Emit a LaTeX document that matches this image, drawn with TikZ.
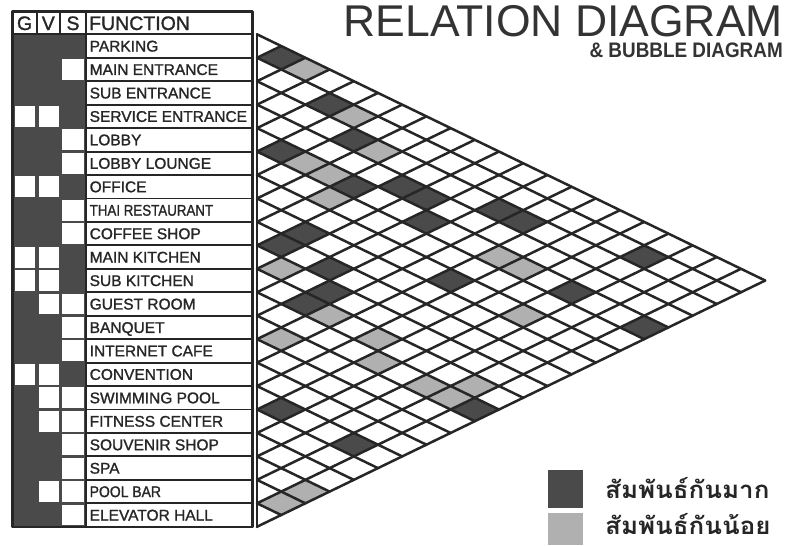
\documentclass[tikz,border=0pt]{standalone}
\usepackage{fontspec}
\setmainfont{Liberation Sans}
\newfontfamily\semib[FakeBold=1.3]{Liberation Sans}
\newfontfamily\thaifont[Script=Thai]{Loma}
\definecolor{cdark}{HTML}{4A4A4A}
\definecolor{clight}{HTML}{B0B0B0}
\definecolor{gline}{HTML}{262626}
\def\gxo{257}
\def\gyt{34.3}
\def\grh{23.45}
\def\gha{24.2}
\newcommand\relcell[3]{%
  \fill[#1] ({\gxo+(#3-#2)*\gha-\gha},{\gyt+(#2+#3-1)*\grh/2}) -- ++(\gha,-\grh/2) -- ++(\gha,\grh/2) -- ++(-\gha,\grh/2) -- cycle;}
\tikzset{
  gridline/.style={draw=gline, line width=2.5pt, line cap=round},
  tline/.style={draw=black!85, line width=1.9pt},
  fname/.style={anchor=base west, inner sep=0pt, font=\semib\fontsize{15.5}{16}\selectfont, text=black!85},
  hname/.style={anchor=base, inner sep=0pt, font=\semib\fontsize{19.5}{20}\selectfont, text=black!85},
  legtext/.style={anchor=base west, inner sep=0pt, font=\thaifont\bfseries\fontsize{24}{25}\selectfont, text=black!85},
}
\begin{document}
\begin{tikzpicture}[x=1pt,y=-1pt,line join=round]
\useasboundingbox (0,0) rectangle (787,546);
\fill[white] (0,0) rectangle (787,546);

% ---------- relation cells ----------
\foreach \i/\j in {1/2,2/5,3/7,5/6,5/9,4/10,4/11,5/12,8/10,9/10,9/12,10/13,11/13,7/15,3/13,3/14,5/18,2/18,5/21,16/17,16/20,12/21}
  {\relcell{cdark}{\i}{\j}}
\foreach \i/\j in {1/3,2/6,3/8,5/7,5/8,6/9,10/11,11/14,13/14,11/16,12/17,12/19,12/20,11/20,19/21,20/21,5/15,5/16,7/18}
  {\relcell{clight}{\i}{\j}}

% ---------- grid ----------
\foreach \k in {0,...,21} {
  \draw[gridline] (\gxo,{\gyt+\k*\grh}) -- ++({(21-\k)*\gha},{(21-\k)*\grh/2});
  \draw[gridline] (\gxo,{\gyt+\k*\grh}) -- ++({\k*\gha},{-\k*\grh/2});
}
\draw[gridline] (\gxo,\gyt) -- (\gxo,{\gyt+21*\grh});

% ---------- table ----------
\fill[cdark] (12.5,\gyt) rectangle (86,{\gyt+21*\grh});
\foreach \k/\g/\v/\s in {1/1/1/1,2/1/1/0,3/1/1/1,4/0/0/1,5/1/1/0,6/1/1/0,7/0/0/1,8/1/1/0,9/1/1/0,10/0/0/1,11/0/0/1,12/1/0/0,13/1/1/0,14/1/1/0,15/0/0/1,16/1/0/0,17/1/0/0,18/1/1/0,19/1/1/0,20/1/0/0,21/1/1/0} {
  \ifnum\g=0 \fill[white] (15,{\gyt+(\k-1)*\grh+1.3}) rectangle (35,{\gyt+\k*\grh-1.3}); \fi
  \ifnum\v=0 \fill[white] (39,{\gyt+(\k-1)*\grh+1.3}) rectangle (58.5,{\gyt+\k*\grh-1.3}); \fi
  \ifnum\s=0 \fill[white] (62,{\gyt+(\k-1)*\grh+1.3}) rectangle (84,{\gyt+\k*\grh-1.3}); \fi
}
\foreach \k in {1,...,20} \draw[tline] (86,{\gyt+\k*\grh}) -- (252.5,{\gyt+\k*\grh});
\draw[tline] (12.5,\gyt) -- (252.5,\gyt);
\draw[tline] (36.7,11.5) -- (36.7,\gyt);
\draw[tline] (60,11.5) -- (60,\gyt);
\draw[tline] (86,11.5) -- (86,{\gyt+21*\grh});
\draw[black!85, line width=2.4pt] (12.5,11.5) rectangle (252.5,{\gyt+21*\grh});

\node[hname] (hg) at (24.6,30) {G};
\node[hname] (hv) at (48.3,30) {V};
\node[hname] (hs) at (73,30) {S};
\node[hname, anchor=base west] (hf) at (89,30) {FUNCTION};

\foreach \k/\name in {1/PARKING,2/MAIN ENTRANCE,3/SUB ENTRANCE,4/SERVICE ENTRANCE,5/LOBBY,6/LOBBY LOUNGE,7/OFFICE,8/{\scalebox{0.86}[1]{THAI RESTAURANT}},9/COFFEE SHOP,10/MAIN KITCHEN,11/SUB KITCHEN,12/GUEST ROOM,13/BANQUET,14/INTERNET CAFE,15/CONVENTION,16/SWIMMING POOL,17/FITNESS CENTER,18/SOUVENIR SHOP,19/SPA,20/{\scalebox{0.9}[1]{POOL BAR}},21/ELEVATOR HALL}
  \node[fname] (f\k) at (89.5,{\gyt+(\k-0.5)*\grh+5.5}) {\name};

% ---------- title ----------
\node[anchor=base east, inner sep=0pt, font=\fontsize{44.5}{46}\selectfont, text=black!80] (title) at (783,36) {RELATION DIAGRAM};
\node[anchor=base east, inner sep=0pt, font=\bfseries\fontsize{21}{22}\selectfont, text=black!80] (subtitle) at (783,57.5) {\scalebox{0.9}[1]{\&\ BUBBLE DIAGRAM}};

% ---------- legend ----------
\fill[cdark] (548,470) rectangle (583,508);
\fill[clight] (548,513) rectangle (583,545);
\node[legtext] (lg1) at (605,498) {\scalebox{1.08}[1]{สัมพันธ์กันมาก}};
\node[legtext] (lg2) at (605,534) {\scalebox{1.08}[1]{สัมพันธ์กันน้อย}};
\end{tikzpicture}
\end{document}
